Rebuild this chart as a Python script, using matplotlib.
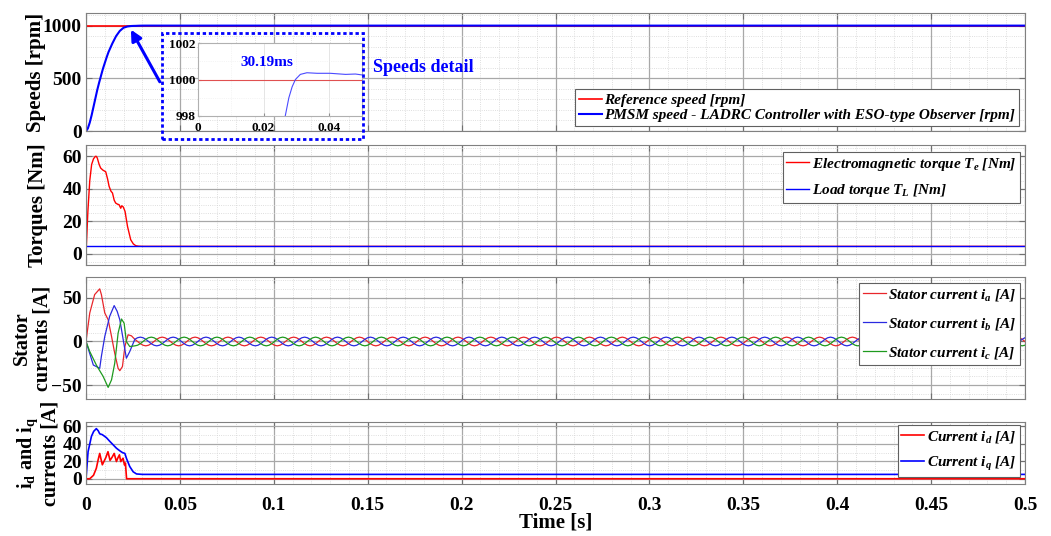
import numpy as np
import matplotlib
matplotlib.use("Agg")
import matplotlib.pyplot as plt
from matplotlib.ticker import MultipleLocator, FuncFormatter
from matplotlib.patches import Rectangle

plt.rcParams['font.family'] = ['Liberation Serif', 'DejaVu Serif']
plt.rcParams['font.weight'] = 'bold'
plt.rcParams['axes.labelweight'] = 'bold'
plt.rcParams['mathtext.fontset'] = 'custom'
plt.rcParams['mathtext.rm'] = 'Liberation Serif:bold'
plt.rcParams['mathtext.it'] = 'Liberation Serif:bold:italic'
plt.rcParams['mathtext.bf'] = 'Liberation Serif:bold'

# ---- data ----
# speed [rpm]
speed_t = [0, 0.001, 0.002, 0.003, 0.004, 0.005, 0.006, 0.007, 0.008, 0.009, 0.010,
           0.011, 0.012, 0.014, 0.016, 0.018, 0.020, 0.022, 0.024, 0.0255, 0.0266,
           0.0277, 0.0287, 0.0297, 0.0312, 0.0332, 0.0363, 0.0403, 0.045, 0.048,
           0.050, 0.5]
speed = [0, 25, 80, 150, 230, 310, 390, 460, 525, 590, 645,
         700, 750, 830, 900, 950, 980, 992, 996.5, 997.6, 998.0,
         999.0, 999.6, 1000.0, 1000.28, 1000.37, 1000.34, 1000.34, 1000.28, 1000.3,
         1000.25, 1000.2]
ref_t = [0, 0.5]
ref_speed = [1000, 1000]

# torques [Nm]
te_t = [0, 0.001, 0.002, 0.003, 0.004, 0.005, 0.0055, 0.006, 0.007, 0.0078, 0.009,
        0.0105, 0.0115, 0.0123, 0.0133, 0.0141, 0.015, 0.0158, 0.0168, 0.0176,
        0.0185, 0.019, 0.0197, 0.0203, 0.0208, 0.0221, 0.0238, 0.0252, 0.0265,
        0.028, 0.030, 0.5]
te = [0, 26, 45, 55, 58.5, 60, 60, 59, 55, 52.8, 51.5,
      50.5, 46, 41.5, 38.5, 37.4, 33, 31.2, 30.5, 30.2,
      28, 29.5, 29, 27.5, 26, 16.8, 8.6, 6, 4.9,
      4.6, 4.5, 4.5]
tl_t = [0, 0.5]
tl = [4.5, 4.5]

# stator currents [A], start-up transient
ia_t = [0, 0.002, 0.0046, 0.0073, 0.0082, 0.010, 0.0118, 0.0136, 0.0153, 0.0171,
        0.018, 0.0194, 0.0207, 0.0224, 0.0242, 0.026]
ia_tr = [0, 32.7, 53.8, 60.4, 53.8, 32.7, 25, 5.8, -13.5, -30.8,
         -33.5, -28.8, -5.8, 7.7, 6.5, 2.5]
ib_t = [0, 0.002, 0.0039, 0.0073, 0.0082, 0.010, 0.0126, 0.015, 0.0166, 0.018,
        0.0198, 0.0215, 0.0233, 0.026]
ib_tr = [0, -14, -27, -30.8, -17, 5.8, 28.8, 41.2, 34.6, 25,
         1.9, -19.2, -11.5, -5.0]
ic_t = [0, 0.002, 0.0055, 0.0091, 0.0118, 0.0136, 0.0153, 0.0171, 0.0189, 0.0203,
        0.0215, 0.0233, 0.026]
ic_tr = [0, -11.5, -27, -40, -52.7, -44, -25, 9.6, 25.8, 21,
         0, -5.8, 2.5]
# one electrical period of the steady-state phase current, 12 samples
cycle = np.array([0, 2.5, 4.3, 5.0, 4.3, 2.5, 0, -2.5, -4.3, -5.0, -4.3, -2.5])
period = 0.0175
ss_start = 0.026

# dq currents [A]
iq_t = [0, 0.0011, 0.0029, 0.0041, 0.0055, 0.0065, 0.0073, 0.0087, 0.0109, 0.0126,
        0.0144, 0.0162, 0.018, 0.0194, 0.0207, 0.0216, 0.0233, 0.0251, 0.0269,
        0.030, 0.5]
iq = [0, 31, 48.6, 54.3, 57.4, 55, 51.5, 50.5, 47, 43,
      39, 35, 32, 30, 29, 23, 14, 8, 5.5,
      5.0, 5.0]
id_t = [0, 0.002, 0.004, 0.0055, 0.0065, 0.0073, 0.0087, 0.0105, 0.0117, 0.0128,
        0.014, 0.015, 0.0162, 0.017, 0.0178, 0.0185, 0.0192, 0.0197, 0.0205,
        0.021, 0.0216, 0.5]
id_ = [0, 0, 4, 12, 22, 29, 16, 24, 31, 21,
       25, 29, 19.7, 24, 27.4, 19.7, 22, 23.5, 15.8,
       18, 0, 0]

# ---- steady-state three-phase currents built by repeating the read cycle ----
n = int(np.ceil((0.5 - ss_start) / period)) * 12 + 1
ss_t = ss_start + np.arange(n) * (period / 12)
k = (np.arange(n) + 5) % 12
ia = np.concatenate([ia_tr[:-1], cycle[k]])
ib = np.concatenate([ib_tr[:-1], cycle[(k - 4) % 12]])
ic = np.concatenate([ic_tr[:-1], cycle[(k - 8) % 12]])
ta = np.concatenate([ia_t[:-1], ss_t])
tb = np.concatenate([ib_t[:-1], ss_t])
tc = np.concatenate([ic_t[:-1], ss_t])

W, H = 1051, 536
fig = plt.figure(figsize=(W / 100, H / 100), dpi=100)


def px_axes(l, t, r, b):
    return fig.add_axes([l / W, 1 - b / H, (r - l) / W, (b - t) / H])


def style(ax, ymajor, yminor, ylim, labels=False):
    ax.set_xlim(0, 0.5)
    ax.set_ylim(*ylim)
    ax.xaxis.set_major_locator(MultipleLocator(0.05))
    ax.xaxis.set_minor_locator(MultipleLocator(0.01))
    ax.yaxis.set_major_locator(MultipleLocator(ymajor))
    ax.yaxis.set_minor_locator(MultipleLocator(yminor))
    ax.grid(which='major', color='#a8a8a8', lw=0.9)
    ax.grid(which='minor', color='#d4d4d4', lw=0.6, ls=':')
    ax.set_axisbelow(True)
    ax.tick_params(which='major', direction='in', length=4, top=True, right=True,
                   labelsize=14, pad=3, color='#707070')
    ax.tick_params(which='minor', length=0)
    ax.tick_params(axis='x', pad=9, labelbottom=labels)
    for s in ax.spines.values():
        s.set_color('#808080')
    ax.xaxis.set_major_formatter(FuncFormatter(lambda v, p: '%g' % round(v, 3)))


leg_kw = dict(prop={'family': 'Liberation Serif', 'style': 'italic',
                    'weight': 'bold', 'size': 11},
              handlelength=1.5, handletextpad=0.15, borderpad=0.25,
              borderaxespad=0, fancybox=False, framealpha=1, edgecolor='#606060')
lab_kw = dict(fontsize=15, fontweight='bold', va='center')

# panel 1: speeds
ax1 = px_axes(86, 13, 1025, 131)
ax1.plot(ref_t, ref_speed, color='#ff0000', lw=1.2, label='Reference speed [rpm]')
ax1.plot(speed_t, speed, color='#0000ff', lw=1.5,
         label='PMSM speed - LADRC Controller with ESO-type Observer [rpm]')
style(ax1, 500, 100, (0, 1120))
ax1.set_ylabel('Speeds [rpm]', **lab_kw)
ax1.yaxis.set_label_coords(-0.053, 0.5)
lg = ax1.legend(loc='lower right', bbox_to_anchor=((1019 - 86) / 939, (131 - 126) / 118),
                labelspacing=0.1, **leg_kw)
lg.get_frame().set_linewidth(0.8)

# panel 2: torques
ax2 = px_axes(86, 145, 1025, 265)
ax2.plot(te_t, te, color='#ff0000', lw=1.0, label='Electromagnetic torque $T_e$ [Nm]')
ax2.plot(tl_t, tl, color='#0000ff', lw=1.0, label='Load torque $T_L$ [Nm]')
style(ax2, 20, 5, (-7, 67))
ax2.set_ylabel('Torques [Nm]', **lab_kw)
ax2.yaxis.set_label_coords(-0.051, 0.5)
lg = ax2.legend(loc='upper right', bbox_to_anchor=((1020 - 86) / 939, (265 - 152) / 120),
                labelspacing=0.6, **leg_kw)
lg.get_frame().set_linewidth(0.8)

# panel 3: stator currents
ax3 = px_axes(86, 277, 1025, 399)
ax3.plot(ta, ia, color='#e8262b', lw=0.9, label='Stator current $i_a$ [A]')
ax3.plot(tb, ib, color='#2a2ae0', lw=0.9, label='Stator current $i_b$ [A]')
ax3.plot(tc, ic, color='#1e9a1e', lw=0.9, label='Stator current $i_c$ [A]')
style(ax3, 50, 10, (-66, 74))
ax3.set_ylabel('Stator\ncurrents [A]', fontsize=14.5, fontweight='bold', va='center',
               linespacing=1.05)
ax3.yaxis.set_label_coords(-0.0575, 0.5)
lg = ax3.legend(loc='upper right', bbox_to_anchor=((1020 - 86) / 939, (399 - 283) / 122),
                labelspacing=0.85, **leg_kw)
lg.get_frame().set_linewidth(0.8)

# panel 4: dq currents
ax4 = px_axes(86, 422, 1025, 484)
ax4.plot(id_t, id_, color='#ff0000', lw=1.2, label='Current $i_d$ [A]')
ax4.plot(iq_t, iq, color='#0000ff', lw=1.2, label='Current $i_q$ [A]')
style(ax4, 20, 10, (-6, 65), labels=True)
ax4.set_ylabel('i$_\\mathregular{d}$ and i$_\\mathregular{q}$\ncurrents [A]',
               fontsize=14.5, fontweight='bold', va='center', linespacing=1.0)
ax4.yaxis.set_label_coords(-0.051, 0.5)
ax4.set_xlabel('Time [s]', **lab_kw)
ax4.xaxis.set_label_coords(0.5, (484 - 522) / 62)
lg = ax4.legend(loc='upper right', bbox_to_anchor=((1020 - 86) / 939, (484 - 425) / 62),
                labelspacing=0.65, **leg_kw)
lg.get_frame().set_linewidth(0.8)

# inset with speed detail
axi = px_axes(198, 43, 362, 116)
axi.plot(ref_t, ref_speed, color='#e05050', lw=0.8)
axi.plot(speed_t, speed, color='#4a4aff', lw=0.8)
axi.set_xlim(0, 0.05)
axi.set_ylim(998, 1002)
axi.set_xticks([0, 0.02, 0.04])
axi.set_xticklabels(['0', '0.02', '0.04'])
axi.set_yticks([998, 1000, 1002])
axi.xaxis.set_minor_locator(MultipleLocator(0.01))
axi.yaxis.set_minor_locator(MultipleLocator(1))
axi.grid(which='major', color='#e0e0e0', lw=0.6)
axi.grid(which='minor', color='#ececec', lw=0.5, ls=':')
axi.tick_params(which='major', direction='in', length=2, labelsize=9.5, pad=2,
                color='#909090')
axi.tick_params(axis='x', pad=4)
axi.tick_params(which='minor', length=0)
for s in axi.spines.values():
    s.set_color('#b0b0b0')

fig.add_artist(Rectangle((162 / W, 1 - 139 / H), (363 - 162) / W, (139 - 33) / H,
                         transform=fig.transFigure, fill=False, edgecolor='#0000ff',
                         lw=2.0, ls=(0, (1.2, 1.0)), zorder=10))
ax1.annotate('', xy=(0.0239, 962), xytext=(0.0393, 467),
             arrowprops=dict(arrowstyle='-|>', color='#0000ff', lw=2.2,
                             mutation_scale=16, shrinkA=0, shrinkB=0),
             annotation_clip=False, zorder=11)
fig.text(267 / W, 1 - 63 / H, '30.19ms', color='#0000ff', fontsize=11,
         fontweight='bold', ha='center', va='center')
fig.text(373 / W, 1 - 68 / H, 'Speeds detail', color='#0000ff', fontsize=13,
         fontweight='bold', ha='left', va='center')

fig.savefig('out.png', dpi=100)
